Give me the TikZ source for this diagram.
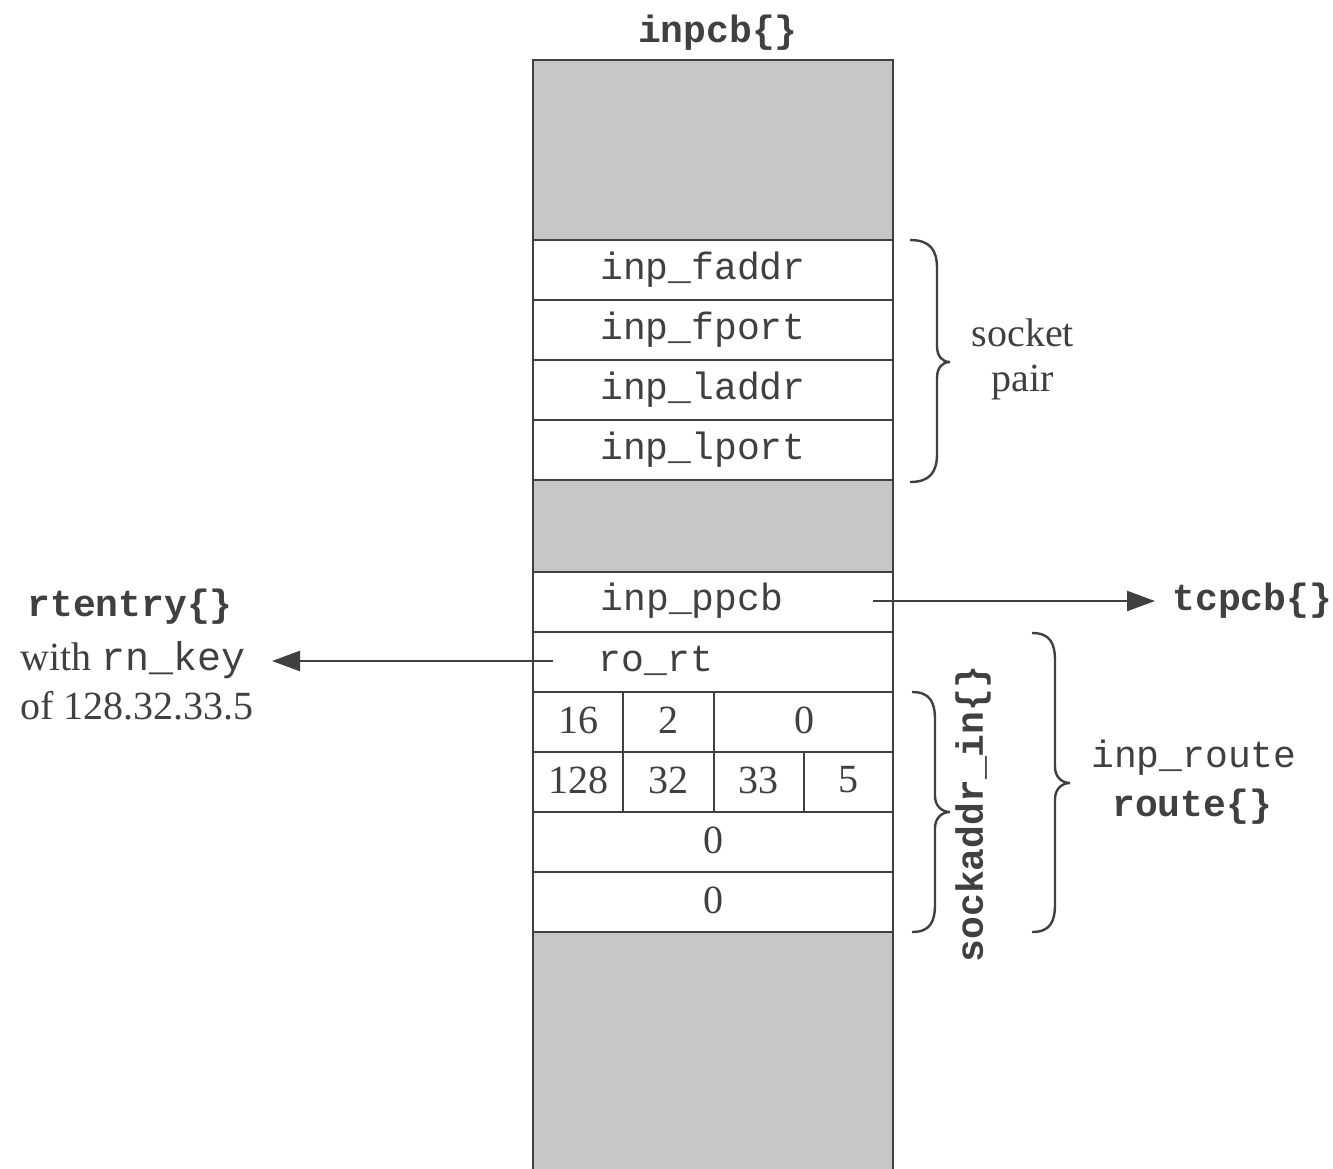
\documentclass[tikz,border=0pt]{standalone}
\usepackage{fontspec}
\setmainfont{Liberation Serif}
\setmonofont{Liberation Mono}
\usetikzlibrary{arrows.meta}
\definecolor{ink}{gray}{0.25}
\definecolor{blockgray}{gray}{0.78}
\begin{document}
\begin{tikzpicture}[x=0.5pt,y=-0.5pt,
  mono/.style={font=\fontsize{19}{22}\selectfont\ttfamily, text=ink, inner sep=0pt},
  monob/.style={font=\fontsize{19}{22}\selectfont\ttfamily\bfseries, text=ink, inner sep=0pt},
  serif/.style={font=\fontsize{20}{24}\selectfont\rmfamily, text=ink, inner sep=0pt},
  cell/.style={draw=ink, line width=1.4pt},
  grayblk/.style={fill=blockgray, draw=ink, line width=1.4pt},
  ptr/.style={draw=ink, line width=1.2pt, -{Triangle[length=14pt,width=10pt]}},
  brc/.style={draw=ink, line width=1.2pt}
]
\useasboundingbox (0,0) rectangle (1333,1168);
\fill[white] (0,0) rectangle (1333,1168);

% column
\draw[grayblk] (533,60) rectangle (893,240);
\draw[cell] (533,240) rectangle (893,300);
\draw[cell] (533,300) rectangle (893,360);
\draw[cell] (533,360) rectangle (893,420);
\draw[cell] (533,420) rectangle (893,480);
\draw[grayblk] (533,480) rectangle (893,572);
\draw[cell] (533,572) rectangle (893,632);
\draw[cell] (533,632) rectangle (893,692);
\draw[cell] (533,692) rectangle (893,752);
\draw[cell] (533,752) rectangle (893,812);
\draw[cell] (533,812) rectangle (893,872);
\draw[cell] (533,872) rectangle (893,932);
\draw[cell] (623,692) -- (623,812);
\draw[cell] (714,692) -- (714,812);
\draw[cell] (804,752) -- (804,812);
\fill[blockgray] (533,932) rectangle (893,1170);
\draw[cell] (533,1170) -- (533,932) -- (893,932) -- (893,1170);

% texts in column
\node[monob] (title) at (718,33) {inpcb\{\}};
\node[mono] (faddr) at (703,270) {inp\_faddr};
\node[mono] (fport) at (703,330) {inp\_fport};
\node[mono] (laddr) at (703,390) {inp\_laddr};
\node[mono] (lport) at (703,450) {inp\_lport};
\node[mono] (ppcb) at (692,601) {inp\_ppcb};
\node[mono] (rort) at (656,661) {ro\_rt};
\node[serif] (n16) at (578,720) {16};
\node[serif] (n2) at (668,720) {2};
\node[serif] (n0a) at (804,720) {0};
\node[serif] (n128) at (578,780) {128};
\node[serif] (n32) at (668,780) {32};
\node[serif] (n33) at (758,780) {33};
\node[serif] (n5) at (848,780) {5};
\node[serif] (n0b) at (713,840) {0};
\node[serif] (n0c) at (713,900) {0};

% right side
\node[monob, anchor=west] (tcpcb) at (1172,601) {tcpcb\{\}};
\coordinate (ppcbout) at (873,601);
\draw[ptr, shorten >=8.5pt] (ppcbout) -- (ppcbout -| tcpcb.west);

\node[serif] (socket) at (1023,333) {socket};
\node[serif] (pair) at (1023,383) {pair};
\node[monob, rotate=90] (sockin) at (973,814) {sockaddr\_in\{\}};
\node[mono] (inproute) at (1194,758) {inp\_route};
\node[monob] (route) at (1192,807) {route\{\}};

% left side
\node[monob, anchor=west] (rtentry) at (27,607) {rtentry\{\}};
\node[serif, anchor=west] (rnkey) at (20,660) {with {\ttfamily rn\_key}};
\node[serif, anchor=west] (rnaddr) at (20,706) {of 128.32.33.5};
\coordinate (rortout) at (553,661);
\coordinate (rttip) at (272,661);
\draw[ptr] (rortout) -- (rttip);

% braces
\draw[brc] (910,240) .. controls (930,240) and (937,250) .. (937,268) -- (937,346)
  .. controls (937,356) and (942,362) .. (950,362)
  .. controls (942,362) and (937,368) .. (937,378) -- (937,454)
  .. controls (937,472) and (930,482) .. (910,482);
\draw[brc] (912,692) .. controls (930,692) and (935,702) .. (935,720) -- (935,796)
  .. controls (935,806) and (942,812) .. (950,812)
  .. controls (942,812) and (935,818) .. (935,828) -- (935,904)
  .. controls (935,922) and (930,932) .. (912,932);
\draw[brc] (1032,633) .. controls (1050,633) and (1055,643) .. (1055,661) -- (1055,767)
  .. controls (1055,777) and (1062,783) .. (1070,783)
  .. controls (1062,783) and (1055,789) .. (1055,799) -- (1055,904)
  .. controls (1055,922) and (1050,932) .. (1032,932);
\end{tikzpicture}
\end{document}
